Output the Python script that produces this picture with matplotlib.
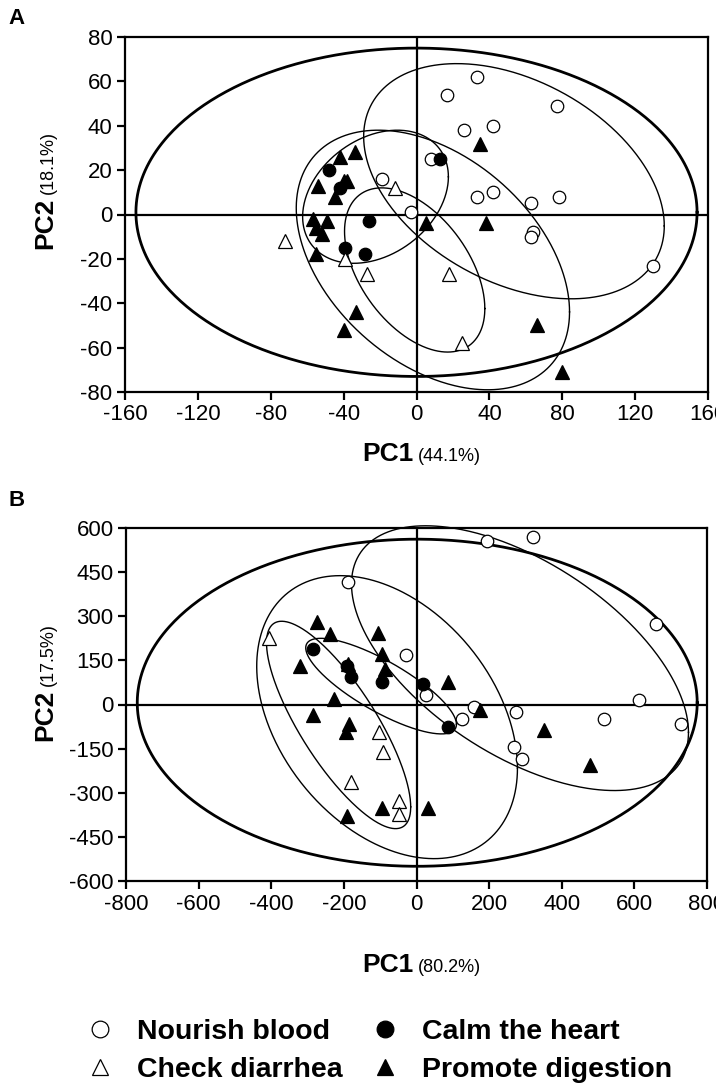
import numpy as np
import matplotlib.pyplot as plt
from matplotlib.lines import Line2D

plt.rcParams['font.family'] = ['Liberation Sans', 'DejaVu Sans']
plt.rcParams['axes.unicode_minus'] = False

# ---- panel A scores (PC1, PC2) ----
a_nourish_x = [-19, -3, 8, 17, 33, 26, 42, 33, 42, 63, 77, 78, 64, 63, 130]
a_nourish_y = [16, 1, 25, 54, 62, 38, 40, 8, 10, 5, 49, 8, -8, -10, -23]
a_calm_x = [-48, -42, -26, -39, -28, 13]
a_calm_y = [20, 12, -3, -15, -18, 25]
a_check_x = [-72, -39, -27, -12, 18, 25]
a_check_y = [-12, -20, -27, 12, -27, -58]
a_promote_x = [-34, -42, -54, -40, -38, -45, -57, -49, -55, -52, -55, -33, -40, 35, 5, 38, 66, 80]
a_promote_y = [28, 26, 13, 15, 15, 8, -2, -3, -6, -9, -18, -44, -52, 32, -4, -4, -50, -71]

# ---- panel B scores ----
b_nourish_x = [-188, -30, 195, 322, 660, 26, 158, 124, 274, 269, 290, 515, 614, 728]
b_nourish_y = [418, 167, 557, 571, 274, 31, -9, -49, -26, -145, -184, -49, 14, -66]
b_calm_x = [-284, -192, -181, -95, 17, 88]
b_calm_y = [189, 132, 93, 76, 68, -75]
b_check_x = [-406, -104, -93, -181, -47, -47]
b_check_y = [226, -92, -163, -262, -328, -371]
b_promote_x = [-274, -238, -105, -95, -321, -190, -87, -227, -285, -185, -194, -94, -192, 31, 86, 175, 352, 478]
b_promote_y = [282, 241, 242, 173, 131, 137, 120, 19, -34, -65, -95, -351, -380, -352, 76, -20, -88, -204]

# confidence ellipses: all samples, nourish, promote, calm, check
# centre, half range in x / y, correlation
a_ell_cx = [0, 53.5, 9, -22.5, -1]
a_ell_cy = [1, 15, -20.5, 8, -25]
a_ell_rx = [154, 82.5, 75, 40, 38.5]
a_ell_ry = [74, 53, 58.5, 30, 37]
a_ell_rho = [0, -0.38, -0.4, 0.3, -0.47]

b_ell_cx = [2, 285, -81, -97.5, -214.5]
b_ell_cy = [6, 157.5, -43, 62.5, -69.5]
b_ell_rx = [771, 464, 359, 207.5, 198.5]
b_ell_ry = [556, 450, 481, 162.5, 352.5]
b_ell_rho = [0, -0.56, -0.36, -0.8, -0.79]

a_xticks = np.arange(-160, 161, 40)
a_yticks = np.arange(-80, 81, 20)
b_xticks = np.arange(-800, 801, 200)
b_yticks = np.arange(-600, 601, 150)

W, H = 716, 1090
fig = plt.figure(figsize=(W / 100, H / 100), dpi=100)


def px(x0, y0, x1, y1):
    return [x0 / W, 1 - y1 / H, (x1 - x0) / W, (y1 - y0) / H]


def ellipse(ax, cx, cy, rx, ry, rho, lw):
    t = np.linspace(0, 2 * np.pi, 500)
    phi = np.arccos(rho)
    ax.plot(cx + rx * np.cos(t), cy + ry * np.cos(t - phi), color='k', lw=lw,
            clip_on=False, zorder=2)


def panel(ax, groups, ell, xt, yt):
    for cx, cy, rx, ry, rho, lw in zip(*ell, [2.0, 1.0, 1.0, 1.0, 1.0]):
        ellipse(ax, cx, cy, rx, ry, rho, lw)
    ax.axhline(0, color='k', lw=1.6, zorder=1)
    ax.axvline(0, color='k', lw=1.6, zorder=1)
    styles = [('o', 'white'), ('o', 'black'), ('^', 'white'), ('^', 'black')]
    for (gx, gy), (m, fc) in zip(groups, styles):
        ax.plot(gx, gy, ls='none', marker=m, ms=9 if m == 'o' else 9.5, mfc=fc,
                mec='k', mew=0.9, zorder=3, clip_on=False)
    ax.set_xlim(xt[0], xt[-1])
    ax.set_ylim(yt[0], yt[-1])
    ax.set_xticks(xt)
    ax.set_yticks(yt)
    for s in ax.spines.values():
        s.set_linewidth(1.6)
    ax.tick_params(direction='out', length=6, width=1.6, labelsize=16, pad=3)


axA = fig.add_axes(px(125, 37, 708, 392))
panel(axA, [(a_nourish_x, a_nourish_y), (a_calm_x, a_calm_y),
            (a_check_x, a_check_y), (a_promote_x, a_promote_y)],
      (a_ell_cx, a_ell_cy, a_ell_rx, a_ell_ry, a_ell_rho), a_xticks, a_yticks)

axB = fig.add_axes(px(126, 528, 707, 881))
panel(axB, [(b_nourish_x, b_nourish_y), (b_calm_x, b_calm_y),
            (b_check_x, b_check_y), (b_promote_x, b_promote_y)],
      (b_ell_cx, b_ell_cy, b_ell_rx, b_ell_ry, b_ell_rho), b_xticks, b_yticks)


def axis_labels(ypc1, xpc2, ypc2, pct1, pct2):
    fig.text(414 / W, 1 - ypc1 / H, 'PC1', fontsize=19, fontweight='bold',
             ha='right', va='baseline')
    fig.text(418 / W, 1 - ypc1 / H, pct1, fontsize=13, ha='left', va='baseline')
    fig.text(xpc2 / W, 1 - ypc2 / H, 'PC2', fontsize=19, fontweight='bold',
             rotation=90, ha='right', va='top')
    fig.text(xpc2 / W, 1 - (ypc2 - 4) / H, pct2, fontsize=13,
             rotation=90, ha='right', va='bottom')


axis_labels(461, 57, 198, '(44.1%)', '(18.1%)')
axis_labels(972, 57, 690, '(80.2%)', '(17.5%)')

fig.text(8 / W, 1 - 8 / H, 'A', fontsize=16, fontweight='bold', va='top')
fig.text(8 / W, 1 - 490 / H, 'B', fontsize=16, fontweight='bold', va='top')

names = ['Nourish blood', 'Check diarrhea', 'Calm the heart', 'Promote digestion']
handles = [Line2D([], [], ls='none', marker='o', ms=12, mfc='white', mec='k', mew=0.9),
           Line2D([], [], ls='none', marker='^', ms=12, mfc='white', mec='k', mew=0.9),
           Line2D([], [], ls='none', marker='o', ms=12, mfc='black', mec='k', mew=0.9),
           Line2D([], [], ls='none', marker='^', ms=12, mfc='black', mec='k', mew=0.9)]
fig.legend(handles, names, ncol=2, loc='upper left', bbox_to_anchor=(84 / W, 1 - 1019 / H),
           frameon=False, prop={'weight': 'bold', 'size': 20.5}, handlelength=1.1,
           handletextpad=0.75, columnspacing=0.95, labelspacing=0.42, borderaxespad=0,
           borderpad=0)

fig.savefig('out.png', dpi=100)
